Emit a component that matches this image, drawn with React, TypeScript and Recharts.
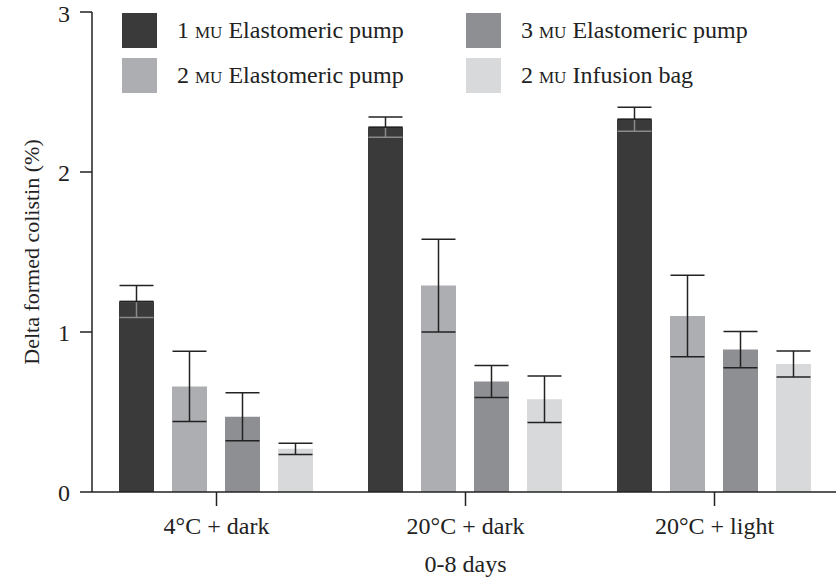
import React from 'react';
import { BarChart, Bar, XAxis, YAxis, ErrorBar, Legend } from 'recharts';

// Storage conditions (x categories)
const conditions = ['4°C + dark', '20°C + dark', '20°C + light'];

// Mean delta of formed colistin (%) per preparation
const pump1Mean = [1.19, 2.28, 2.33];
const pump1Sd = [0.1, 0.063, 0.075];
const pump2Mean = [0.66, 1.29, 1.1];
const pump2Sd = [0.22, 0.29, 0.255];
const pump3Mean = [0.47, 0.69, 0.89];
const pump3Sd = [0.15, 0.1, 0.113];
const bagMean = [0.27, 0.58, 0.8];
const bagSd = [0.035, 0.145, 0.082];

const yTicks = [0, 1, 2, 3];

const series = [
  { key: 'pump1', dose: '1', device: 'Elastomeric pump', color: '#3a3a3a' },
  { key: 'pump2', dose: '2', device: 'Elastomeric pump', color: '#adaeb1' },
  { key: 'pump3', dose: '3', device: 'Elastomeric pump', color: '#8e8f93' },
  { key: 'bag', dose: '2', device: 'Infusion bag', color: '#d8d9db' },
];

const data = conditions.map((c, i) => ({
  condition: c,
  pump1: pump1Mean[i],
  pump1Up: [0, pump1Sd[i]],
  pump1Down: [pump1Sd[i], 0],
  pump2: pump2Mean[i],
  pump2Err: pump2Sd[i],
  pump3: pump3Mean[i],
  pump3Err: pump3Sd[i],
  bag: bagMean[i],
  bagErr: bagSd[i],
}));

const FONT = '"Liberation Serif", "Times New Roman", serif';
const INK = '#222222';
const TEXT_SIZE = 24;

// Legend laid out as two columns: row one holds series 1 and 3, row two holds 2 and 4
const legendOrder = [0, 2, 1, 3];

const LegendBlock = () => (
  <div
    style={{
      display: 'grid',
      gridTemplateColumns: '344px 330px',
      rowGap: 10,
      fontFamily: FONT,
      fontSize: TEXT_SIZE,
      color: INK,
    }}
  >
    {legendOrder.map((idx) => {
      const s = series[idx];
      return (
        <div key={s.key} style={{ display: 'flex', alignItems: 'center', height: 35 }}>
          <div style={{ width: 35, height: 35, background: s.color, marginRight: 20, flexShrink: 0 }} />
          <span style={{ whiteSpace: 'nowrap' }}>
            {s.dose} <span style={{ fontVariant: 'small-caps' }}>mu</span> {s.device}
          </span>
        </div>
      );
    })}
  </div>
);

export default function App() {
  return (
    <div
      style={{
        position: 'absolute',
        left: 0,
        top: 0,
        width: 836,
        height: 583,
        overflow: 'hidden',
        background: '#ffffff',
      }}
    >
      <BarChart
        width={839}
        height={583}
        data={data}
        margin={{ top: 12, right: 0, bottom: 0, left: 32 }}
        barCategoryGap={27}
        barGap={18}
      >
        <XAxis
          dataKey="condition"
          height={91}
          tickSize={14}
          tickMargin={11}
          axisLine={{ stroke: INK, strokeWidth: 1.5 }}
          tickLine={{ stroke: INK, strokeWidth: 1.5 }}
          tick={{ fill: INK, fontSize: TEXT_SIZE, fontFamily: FONT }}
          label={{
            value: '0-8 days',
            position: 'insideBottom',
            offset: 11,
            fill: INK,
            fontSize: TEXT_SIZE,
            fontFamily: FONT,
          }}
        />
        <YAxis
          width={60}
          domain={[0, 3]}
          ticks={yTicks}
          tickSize={12}
          tickMargin={10}
          axisLine={{ stroke: INK, strokeWidth: 1.5 }}
          tickLine={{ stroke: INK, strokeWidth: 1.5 }}
          tick={{ fill: INK, fontSize: TEXT_SIZE, fontFamily: FONT }}
          label={{
            value: 'Delta formed colistin (%)',
            angle: -90,
            position: 'insideLeft',
            offset: -1,
            fill: INK,
            fontSize: 22,
            fontFamily: FONT,
            style: { textAnchor: 'middle' },
          }}
        />
        <Legend
          verticalAlign="middle"
          layout="horizontal"
          content={() => <LegendBlock />}
          wrapperStyle={{ top: 13, left: 122, width: 710, height: 80 }}
        />
        <Bar dataKey="pump1" fill={series[0].color} isAnimationActive={false}>
          <ErrorBar dataKey="pump1Down" width={17} strokeWidth={1.5} stroke="#8a8a8a" />
          <ErrorBar dataKey="pump1Up" width={17} strokeWidth={1.5} stroke={INK} />
        </Bar>
        <Bar dataKey="pump2" fill={series[1].color} isAnimationActive={false}>
          <ErrorBar dataKey="pump2Err" width={17} strokeWidth={1.5} stroke={INK} />
        </Bar>
        <Bar dataKey="pump3" fill={series[2].color} isAnimationActive={false}>
          <ErrorBar dataKey="pump3Err" width={17} strokeWidth={1.5} stroke={INK} />
        </Bar>
        <Bar dataKey="bag" fill={series[3].color} isAnimationActive={false}>
          <ErrorBar dataKey="bagErr" width={17} strokeWidth={1.5} stroke={INK} />
        </Bar>
      </BarChart>
    </div>
  );
}
